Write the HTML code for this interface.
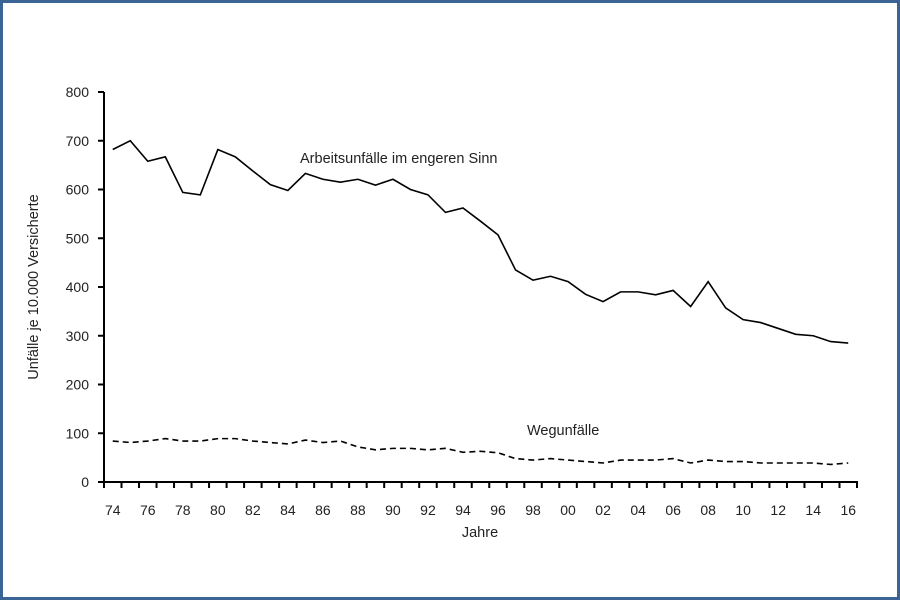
<!DOCTYPE html>
<html><head><meta charset="utf-8"><style>
body{margin:0;background:#fff}
#wrap{position:relative;width:900px;height:600px;box-sizing:border-box;border:3px solid #3a6494;background:#fff;overflow:hidden}
svg{position:absolute;left:-3px;top:-3px}
text{font-family:"Liberation Sans",sans-serif;fill:#222}
</style></head><body>
<div id="wrap">
<svg id="c" width="900" height="600"></svg>
</div>
<script>
const years=["74","75","76","77","78","79","80","81","82","83","84","85","86","87","88","89","90","91","92","93","94","95","96","97","98","99","00","01","02","03","04","05","06","07","08","09","10","11","12","13","14","15","16"];
const arbeit=[682,700,658,667,594,589,682,667,638,610,598,633,621,615,621,609,621,600,589,553,562,535,507,435,414,422,411,385,370,390,390,384,393,360,411,357,333,327,315,303,300,288,285];
const weg=[84,81,84,89,84,84,89,89,84,81,78,86,81,84,72,66,69,69,66,69,61,63,60,48,45,48,45,42,39,45,45,45,48,39,45,42,42,39,39,39,39,36,39];
const yTicks=[0,100,200,300,400,500,600,700,800];
const NS="http://www.w3.org/2000/svg",svg=document.getElementById('c');
const x0=104,x1=857,y0=482,y1=92;
const step=(x1-x0)/years.length;
const X=i=>x0+step*(i+0.5);
const Y=v=>y0-(v/800)*(y0-y1);
function mk(t,a){const e=document.createElementNS(NS,t);for(const k in a)e.setAttribute(k,a[k]);svg.appendChild(e);return e;}
let e;
e=mk('line',{x1:x0,y1:y1,x2:x0,y2:y0+1,stroke:'#000','stroke-width':2});

e=mk('line',{x1:x0-1,y1:y0,x2:x1+1,y2:y0,stroke:'#000','stroke-width':2});

yTicks.forEach(v=>{
 e=mk('line',{x1:x0-6,y1:Y(v),x2:x0,y2:Y(v),stroke:'#000','stroke-width':2});
 
 e=mk('text',{x:x0-15,y:Y(v)+5,'text-anchor':'end','font-size':14});e.textContent=v;
 
});
for(let i=0;i<=years.length;i++){
 e=mk('line',{x1:x0+step*i,y1:y0,x2:x0+step*i,y2:y0+6,stroke:'#000','stroke-width':2});
 
}
years.forEach((y,i)=>{if(i%2==0){
 e=mk('text',{x:X(i),y:515,'text-anchor':'middle','font-size':14});e.textContent=y;
 
}});
e=mk('polyline',{points:arbeit.map((v,i)=>X(i)+','+Y(v)).join(' '),fill:'none',stroke:'#000','stroke-width':1.6});

e=mk('polyline',{points:weg.map((v,i)=>X(i)+','+Y(v)).join(' '),fill:'none',stroke:'#000','stroke-width':1.6,'stroke-dasharray':'6,4'});

e=mk('text',{x:300,y:163,'font-size':14.5});e.textContent='Arbeitsunfälle im engeren Sinn';

e=mk('text',{x:527,y:435,'font-size':14.5});e.textContent='Wegunfälle';

e=mk('text',{x:480,y:537,'text-anchor':'middle','font-size':14.5});e.textContent='Jahre';

e=mk('text',{x:0,y:0,'text-anchor':'middle','font-size':14.5,transform:'translate(38,287) rotate(-90)'});e.textContent='Unfälle je 10.000 Versicherte';

</script>
</body></html>
